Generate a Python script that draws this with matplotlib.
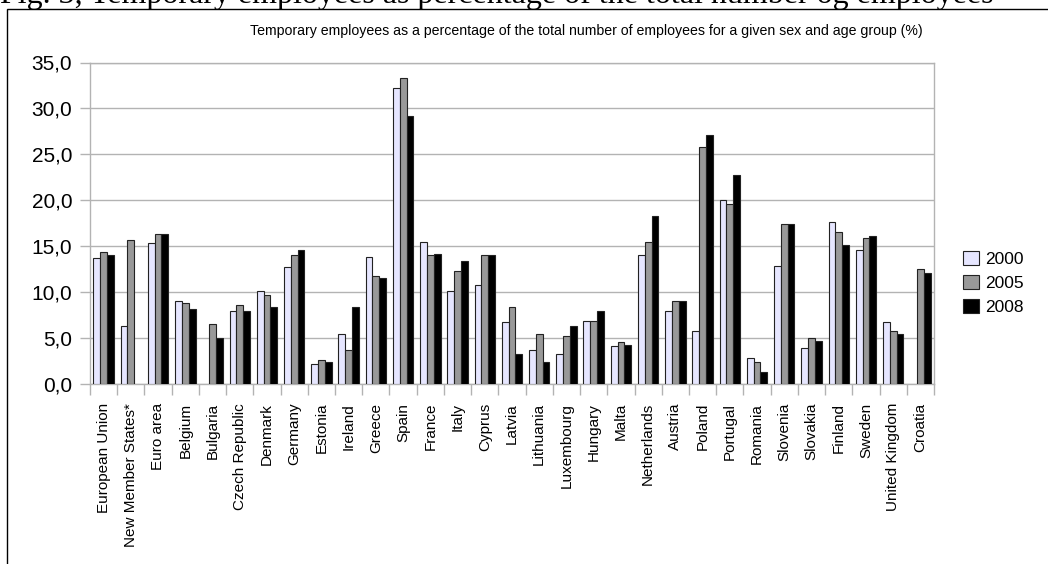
import matplotlib
matplotlib.use("Agg")
import matplotlib.pyplot as plt
import numpy as np
from matplotlib.patches import Rectangle
from matplotlib.ticker import MultipleLocator, FixedLocator, FuncFormatter
from matplotlib import font_manager

countries = ["European Union", "New Member States*", "Euro area", "Belgium", "Bulgaria",
             "Czech Republic", "Denmark", "Germany", "Estonia", "Ireland", "Greece", "Spain",
             "France", "Italy", "Cyprus", "Latvia", "Lithuania", "Luxembourg", "Hungary",
             "Malta", "Netherlands", "Austria", "Poland", "Portugal", "Romania", "Slovenia",
             "Slovakia", "Finland", "Sweden", "United Kingdom", "Croatia"]
years = ["2000", "2005", "2008"]
v2000 = [13.7, 6.3, 15.3, 9.0, np.nan, 7.9, 10.1, 12.7, 2.2, 5.4, 13.8, 32.2,
         15.5, 10.1, 10.8, 6.7, 3.7, 3.3, 6.9, 4.1, 14.0, 8.0, 5.8, 20.0, 2.8, 12.9,
         3.9, 17.6, 14.6, 6.7, np.nan]
v2005 = [14.4, 15.7, 16.3, 8.8, 6.5, 8.6, 9.7, 14.0, 2.6, 3.7, 11.8, 33.3,
         14.0, 12.3, 14.0, 8.4, 5.4, 5.2, 6.9, 4.6, 15.5, 9.0, 25.8, 19.6, 2.4, 17.4,
         5.0, 16.6, 15.9, 5.8, 12.5]
v2008 = [14.0, np.nan, 16.3, 8.2, 5.0, 8.0, 8.4, 14.6, 2.4, 8.4, 11.5, 29.2,
         14.2, 13.4, 14.0, 3.3, 2.4, 6.3, 8.0, 4.3, 18.3, 9.0, 27.1, 22.8, 1.3, 17.4,
         4.7, 15.1, 16.1, 5.4, 12.1]
series = [v2000, v2005, v2008]
colors = ["#e6e6ff", "#999999", "#000000"]

avail = {f.name for f in font_manager.fontManager.ttflist}
narrow = "Liberation Sans Narrow" if "Liberation Sans Narrow" in avail else "Liberation Sans"

plt.rcParams['font.family'] = ['Liberation Sans', 'DejaVu Sans']

W, H = 1048, 564
fig = plt.figure(figsize=(W / 100, H / 100), dpi=100)
fig.patch.set_facecolor("white")

# outer frame
fig.patches.append(Rectangle((7 / W, -0.2), 1.2, 1 - 8.5 / H + 0.2, transform=fig.transFigure,
                             fill=False, edgecolor="black", linewidth=1.0))
# cut-off document caption above the frame
fig.text(0.0, 1 - 3 / H, "Fig. 3, Temporary employees as percentage of the total number og employees",
         family=["Liberation Serif", "DejaVu Serif"], fontsize=23, va="baseline", ha="left")

ax = fig.add_axes([90 / W, 1 - 384 / H, (934 - 90) / W, (384 - 62.5) / H])

x = np.arange(len(countries))
bw = 0.25
for i, (vals, c, lab) in enumerate(zip(series, colors, years)):
    ax.bar(x + (i - 1) * bw, vals, width=bw, color=c, edgecolor="#222222",
           linewidth=0.8, label=lab, zorder=3)

ax.set_xlim(-0.5, len(countries) - 0.5)
ax.set_ylim(0, 35)
ax.yaxis.set_major_locator(MultipleLocator(5))
ax.yaxis.set_major_formatter(FuncFormatter(lambda v, p: f"{v:.1f}".replace(".", ",")))
ax.grid(axis="y", color="#b3b3b3", linewidth=1.0, zorder=0)
ax.set_axisbelow(True)
for s in ax.spines.values():
    s.set_color("#b3b3b3")
    s.set_linewidth(1.0)

ax.tick_params(axis="y", length=7.2, color="#b3b3b3", width=1.0, pad=5.5, labelsize=15)
ax.set_xticks(x)
ax.set_xticklabels(countries, rotation=90, family=[narrow, "DejaVu Sans"], fontsize=11,
                   va="top", ha="center")
ax.tick_params(axis="x", which="major", length=0, pad=13.5)
ax.xaxis.set_minor_locator(FixedLocator(np.arange(-0.5, len(countries), 1.0)))
ax.tick_params(axis="x", which="minor", length=8, color="#b3b3b3", width=1.0)

fig.text(586 / W, 1 - 31 / H,
         "Temporary employees as a percentage of the total number of employees for a given sex and age group (%)",
         ha="center", va="center", fontsize=10.2, family=[narrow, "DejaVu Sans"])

fig.legend(loc="center left", bbox_to_anchor=(963 / W, 1 - 283 / H), frameon=False,
           fontsize=12.5, handlelength=0.9, handleheight=0.9, handletextpad=0.35,
           labelspacing=0.45, borderpad=0, borderaxespad=0)

fig.savefig("out.png", dpi=100, facecolor="white")
